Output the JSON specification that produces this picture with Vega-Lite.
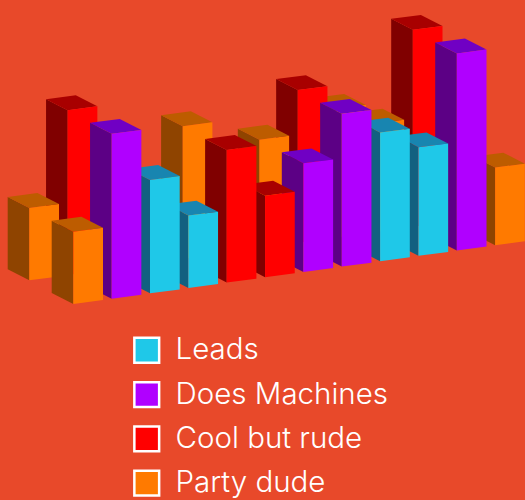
{
"$schema":"https://vega.github.io/schema/vega-lite/v6.json",
"width":525,"height":500,"padding":0,"autosize":{"type":"none"},
"background":"#E8492A",
"config":{"view":{"stroke":null}},
"data":{"values":[
{"slot":10,"row":0,"series":"Cool but rude","value":49},
{"slot":9,"row":0,"series":"Party dude","value":27},
{"slot":8,"row":0,"series":"Party dude","value":32},
{"slot":7,"row":0,"series":"Cool but rude","value":38},
{"slot":6,"row":0,"series":"Party dude","value":27},
{"slot":4,"row":0,"series":"Party dude","value":33},
{"slot":1,"row":0,"series":"Cool but rude","value":41},
{"slot":0,"row":0,"series":"Party dude","value":18},
{"slot":11,"row":1,"series":"Party dude","value":19.3},
{"slot":10,"row":1,"series":"Does Machines","value":49},
{"slot":9,"row":1,"series":"Leads","value":27},
{"slot":8,"row":1,"series":"Leads","value":32},
{"slot":7,"row":1,"series":"Does Machines","value":38},
{"slot":6,"row":1,"series":"Does Machines","value":27},
{"slot":5,"row":1,"series":"Cool but rude","value":20.3},
{"slot":4,"row":1,"series":"Cool but rude","value":33},
{"slot":3,"row":1,"series":"Leads","value":18},
{"slot":2,"row":1,"series":"Leads","value":28.2},
{"slot":1,"row":1,"series":"Does Machines","value":41},
{"slot":0,"row":1,"series":"Party dude","value":18}
]},
"transform":[
{"fold":["left","top","front"],"as":["face","f0"]},
{"fold":["a","b","c","d"],"as":["corner","c0"]},
{"calculate":"(datum.corner=='b'||datum.corner=='c')?1:0","as":"s"},
{"calculate":"(datum.corner=='c'||datum.corner=='d')?1:0","as":"t"},
{"calculate":"datum.face=='left'?0:datum.s","as":"w"},
{"calculate":"datum.face=='front'?0:(datum.face=='left'?datum.s:datum.t)","as":"dp"},
{"calculate":"datum.face=='top'?1:datum.t","as":"z"},
{"calculate":"29.3+38.35*datum.slot+44*datum.row+29.7*datum.w-21.6*datum.dp","as":"px"},
{"calculate":"280.3-5.35*datum.slot+23.7*datum.row-3.9*datum.w-11*datum.dp-4.02*datum.value*datum.z","as":"py"},
{"calculate":"datum.series+(datum.face=='front'?'':' '+datum.face)","as":"shade"},
{"calculate":"datum.slot+'-'+datum.row+'-'+datum.face","as":"polygon"}
],
"mark":{"type":"line","filled":true,"strokeWidth":0,"interpolate":"linear-closed"},
"encoding":{
"x":{"field":"px","type":"quantitative","axis":null,"scale":{"domain":[0,525],"nice":false,"zero":false}},
"y":{"field":"py","type":"quantitative","axis":null,"scale":{"domain":[500,0],"nice":false,"zero":false}},
"detail":{"field":"polygon"},
"order":{"field":"corner"},
"color":{"field":"shade","type":"nominal",
"scale":{
"domain":["Leads","Does Machines","Cool but rude","Party dude","Leads top","Does Machines top","Cool but rude top","Party dude top","Leads left","Does Machines left","Cool but rude left","Party dude left"],
"range":["#1FC8E8","#B000FF","#FF0000","#FF7A00","#1885B0","#7000C4","#A80000","#BD5C00","#126080","#5C0085","#800000","#8F4400"]},
"legend":{"title":null,"values":["Leads","Does Machines","Cool but rude","Party dude"],"orient":"none","legendX":132,"legendY":335.5,"symbolType":"square","symbolSize":615,"symbolStrokeColor":"#FFFFFF","symbolStrokeWidth":2.5,"symbolOpacity":1,"labelFont":"Inter","labelFontWeight":300,"labelFontSize":29.5,"labelColor":"#FFFFFF","labelOffset":14,"rowPadding":8.3,"labelLimit":0}}
}
}
